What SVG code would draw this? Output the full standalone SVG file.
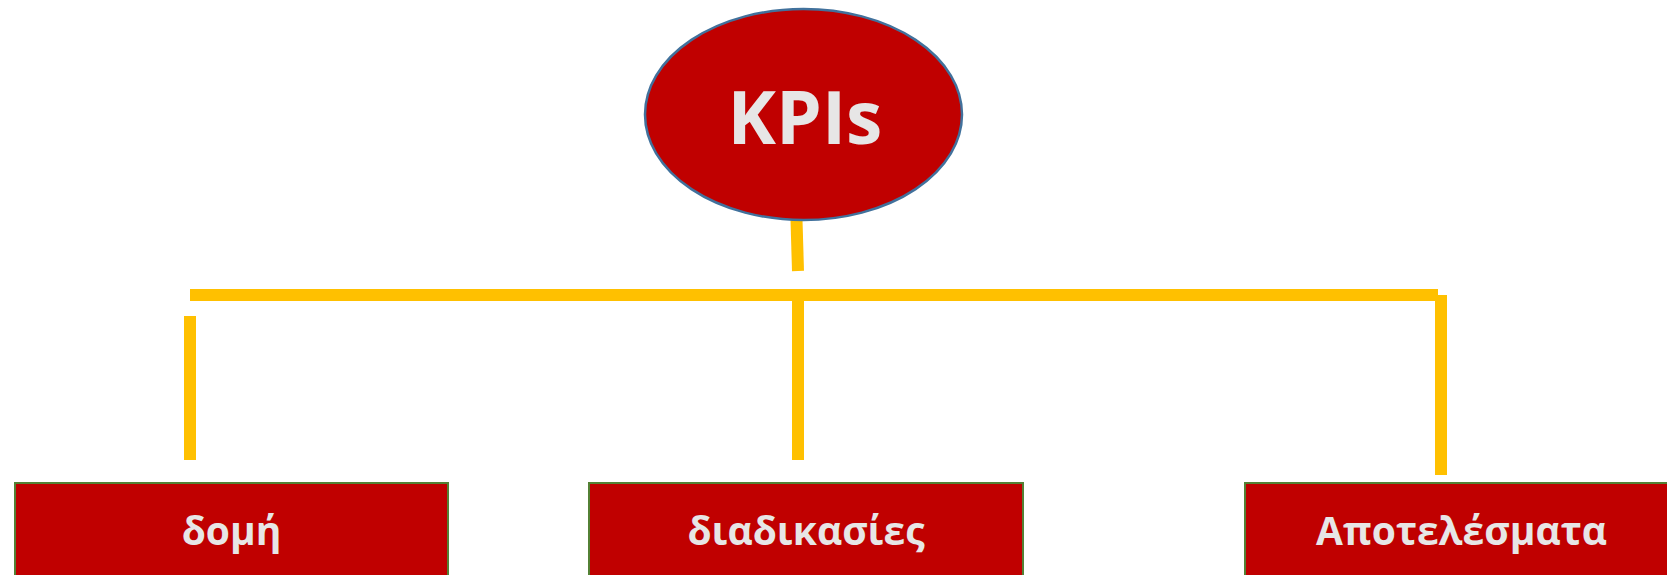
<svg xmlns="http://www.w3.org/2000/svg" width="1667" height="575" viewBox="0 0 1667 575">
<style>
.bar{stroke:#FFC000;stroke-width:12;fill:none;stroke-linecap:butt}
.box{fill:#C00000;stroke:#538135;stroke-width:2}
.lbl{font-family:"Open Sans","Noto Sans","DejaVu Sans",sans-serif;font-weight:bold;fill:#E7E6E6;text-anchor:middle}
</style>
<rect width="1667" height="575" fill="#FFFFFF"/>
<g id="connectors">
<line class="bar" x1="796.5" y1="220" x2="798" y2="271"/>
<line class="bar" x1="190" y1="295" x2="1438" y2="295"/>
<line class="bar" x1="190" y1="316" x2="190" y2="460"/>
<line class="bar" x1="798" y1="301" x2="798" y2="460"/>
<line class="bar" x1="1441" y1="295" x2="1441" y2="475"/>
</g>
<g id="kpis">
<ellipse cx="803.5" cy="114.5" rx="158.5" ry="105.5" fill="#C00000" stroke="#41719C" stroke-width="2.5"/>
<text class="lbl" x="805" y="144" font-size="73">KPIs</text>
</g>
<g id="domi">
<rect class="box" x="15" y="483" width="433" height="110"/>
<text class="lbl" x="231.5" y="545" font-size="39">δομή</text>
</g>
<g id="diadikasies">
<rect class="box" x="589" y="483" width="434" height="110"/>
<text class="lbl" x="806" y="545" font-size="39">διαδικασίες</text>
</g>
<g id="apotelesmata">
<rect class="box" x="1245" y="483" width="433" height="110"/>
<text class="lbl" x="1461.5" y="545" font-size="39">Αποτελέσματα</text>
</g>
</svg>
